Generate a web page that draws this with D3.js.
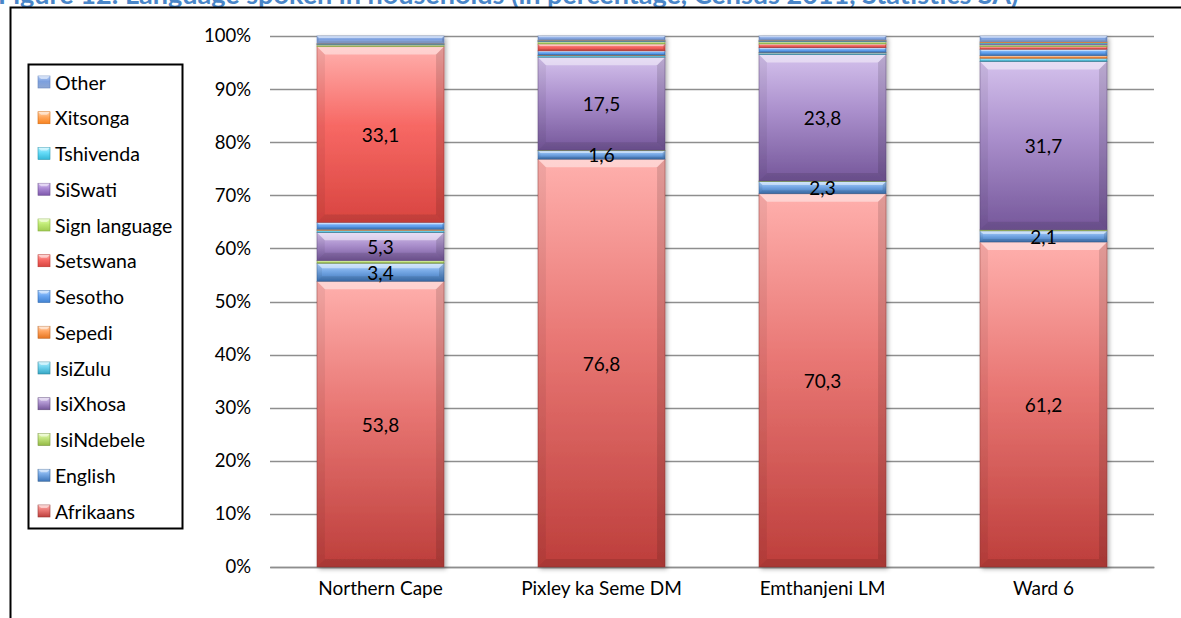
<!DOCTYPE html>
<html>
<head>
<meta charset="utf-8">
<script src="https://cdn.jsdelivr.net/npm/d3@7"></script>
<style>
  html, body { margin: 0; padding: 0; background: #fff; overflow: hidden; }
  svg { display: block; }
</style>
</head>
<body>
<svg id="chart" width="1181" height="618"></svg>
<script>
// Home language by area, share of population (%)
const categories = ["Northern Cape", "Pixley ka Seme DM", "Emthanjeni LM", "Ward 6"];
const languages = ["Afrikaans", "English", "IsiNdebele", "IsiXhosa", "IsiZulu", "Sepedi",
                   "Sesotho", "Setswana", "Sign language", "SiSwati", "Tshivenda", "Xitsonga", "Other"];

const afrikaans    = [53.8, 76.8, 70.3, 61.2];
const english      = [3.4, 1.6, 2.3, 2.1];
const isiNdebele   = [0.5, 0.1, 0.1, 0.2];
const isiXhosa     = [5.3, 17.5, 23.8, 31.7];
const isiZulu      = [0.4, 0.3, 0.3, 0.6];
const sepedi       = [0.2, 0.1, 0.1, 0.5];
const sesotho      = [1.3, 0.8, 0.9, 1.2];
const setswana     = [33.1, 1.3, 0.7, 0.5];
const signLanguage = [0.3, 0.4, 0.4, 0.3];
const siSwati      = [0.1, 0.1, 0.1, 0.2];
const tshivenda    = [0.1, 0.1, 0.1, 0.2];
const xitsonga     = [0.1, 0.1, 0.1, 0.2];
const other        = [1.4, 0.8, 0.8, 1.1];

const yTicks = [0, 0.1, 0.2, 0.3, 0.4, 0.5, 0.6, 0.7, 0.8, 0.9, 1.0];
const titleText = "Figure 12: Language spoken in households (in percentage, Census 2011, Statistics SA)";

const seriesValues = [afrikaans, english, isiNdebele, isiXhosa, isiZulu, sepedi,
                      sesotho, setswana, signLanguage, siSwati, tshivenda, xitsonga, other];

const baseColors = ["#C0504D", "#4F81BD", "#9BBB59", "#8064A2", "#4BACC6", "#E0843F",
                    "#5A8FD0", "#D65E5A", "#A9CC6B", "#8A6BB0", "#4FBAD4", "#F0913F", "#A7B9D9"];

// table rows for d3.stack
const rows = categories.map((c, i) => {
  const r = { category: c };
  languages.forEach((l, j) => { r[l] = seriesValues[j][i]; });
  return r;
});

const svg = d3.select("#chart");
const W = 1181, H = 618;
const margin = { left: 270, right: 27, top: 36, bottom: 51 };

const FONT = "Lato, 'Open Sans', sans-serif";

// title (runs off the top edge) and the outer frame's top and left rules
svg.append("text")
  .attr("x", -2).attr("y", 4)
  .attr("font-family", FONT).attr("font-weight", "bold")
  .attr("font-size", 27).attr("fill", "#4A86C8")
  .text(titleText);

svg.append("path")
  .attr("d", `M10.5,${H + 5} V7.5 H${W + 5}`)
  .attr("fill", "none").attr("stroke", "#000").attr("stroke-width", 2);

const x = d3.scaleBand().domain(categories)
  .range([margin.left, W - margin.right]).paddingInner(0.425).paddingOuter(0.2125);
const y = d3.scaleLinear().domain([0, 1]).range([H - margin.bottom, margin.top]);

const defs = svg.append("defs");

// per-series vertical gradient, light at the top, saturated at the bottom
baseColors.forEach((c, i) => {
  const h = d3.hsl(c);
  const top = d3.hsl(h.h, Math.min(1, h.s * 2.1), 0.84);
  const mid = d3.hsl(h.h, Math.min(1, h.s * 1.5), 0.68);
  const bot = d3.hsl(h.h, Math.min(1, h.s * 1.1), h.l * 0.92);
  const g = defs.append("linearGradient").attr("id", "grad" + i)
    .attr("x1", 0).attr("y1", 0).attr("x2", 0).attr("y2", 1);
  g.append("stop").attr("offset", "0%").attr("stop-color", top.formatHex());
  g.append("stop").attr("offset", "45%").attr("stop-color", mid.formatHex());
  g.append("stop").attr("offset", "100%").attr("stop-color", bot.formatHex());
});

const shadow = defs.append("filter").attr("id", "shadow")
  .attr("x", "-10%").attr("y", "-10%").attr("width", "120%").attr("height", "120%");
shadow.append("feDropShadow").attr("dx", 2).attr("dy", 2)
  .attr("stdDeviation", 2).attr("flood-color", "#000").attr("flood-opacity", 0.3);

// gridlines
svg.append("g").selectAll("line").data(yTicks).join("line")
  .attr("x1", margin.left).attr("x2", W - margin.right)
  .attr("y1", d => Math.round(y(d)) + 0.5).attr("y2", d => Math.round(y(d)) + 0.5)
  .attr("stroke", "#8E8E8E").attr("stroke-width", 1.3);

// y axis labels
const yAxis = d3.axisLeft(y).tickValues(yTicks).tickFormat(d3.format(".0%")).tickSize(0).tickPadding(0);
const yg = svg.append("g").attr("transform", `translate(${margin.left - 19},0)`).call(yAxis);
yg.select(".domain").remove();
yg.selectAll("text").attr("font-family", FONT).attr("font-size", 18.5).attr("fill", "#000");

// x axis labels
const xAxis = d3.axisBottom(x).tickSize(0).tickPadding(15);
const xg = svg.append("g").attr("transform", `translate(0,${H - margin.bottom})`).call(xAxis);
xg.select(".domain").attr("stroke", "#8E8E8E").attr("stroke-width", 1.3);
xg.selectAll("text").attr("font-family", FONT).attr("font-size", 19).attr("fill", "#000");

// stacked bars, 100% per area
const stack = d3.stack().keys(languages).offset(d3.stackOffsetExpand);
const stacked = stack(rows);

const barsG = svg.append("g").attr("filter", "url(#shadow)");
const segs = [];
stacked.forEach((layer, i) => {
  layer.forEach((d, k) => {
    segs.push({ i, key: layer.key, cat: categories[k], y0: d[0], y1: d[1], value: seriesValues[i][k] });
  });
});

const segG = barsG.selectAll("g.seg").data(segs).join("g").attr("class", "seg");
segG.append("rect")
  .attr("x", d => x(d.cat)).attr("width", x.bandwidth())
  .attr("y", d => y(d.y1)).attr("height", d => Math.max(0, y(d.y0) - y(d.y1)))
  .attr("fill", d => `url(#grad${d.i})`)
  .attr("stroke", d => d3.hsl(baseColors[d.i]).darker(1).formatHex())
  .attr("stroke-opacity", 0.55).attr("stroke-width", 0.8);

// bevel: light top edge, darker sides and bottom
segG.each(function(d) {
  const g = d3.select(this);
  const x0 = x(d.cat), w = x.bandwidth();
  const t = y(d.y1), b = y(d.y0), h = b - t;
  if (h < 1.2) return;
  const bv = Math.min(8, h * 0.28);
  g.append("polygon")
    .attr("points", [[x0, t], [x0 + w, t], [x0 + w - bv, t + bv], [x0 + bv, t + bv]].map(p => p.join(",")).join(" "))
    .attr("fill", "#fff").attr("fill-opacity", 0.45);
  g.append("polygon")
    .attr("points", [[x0, t], [x0 + bv, t + bv], [x0 + bv, b - bv], [x0, b]].map(p => p.join(",")).join(" "))
    .attr("fill", "#000").attr("fill-opacity", 0.06);
  g.append("polygon")
    .attr("points", [[x0 + w, t], [x0 + w - bv, t + bv], [x0 + w - bv, b - bv], [x0 + w, b]].map(p => p.join(",")).join(" "))
    .attr("fill", "#000").attr("fill-opacity", 0.12);
  g.append("polygon")
    .attr("points", [[x0, b], [x0 + bv, b - bv], [x0 + w - bv, b - bv], [x0 + w, b]].map(p => p.join(",")).join(" "))
    .attr("fill", "#000").attr("fill-opacity", 0.1);
});

// value labels on the larger segments
const fmt = v => d3.format(".1f")(v).replace(".", ",");
svg.append("g").selectAll("text").data(segs.filter(d => d.value >= 1.5)).join("text")
  .attr("x", d => x(d.cat) + x.bandwidth() / 2)
  .attr("y", d => (y(d.y0) + y(d.y1)) / 2)
  .attr("text-anchor", "middle").attr("dominant-baseline", "central")
  .attr("font-family", FONT).attr("font-size", 19).attr("fill", "#000")
  .text(d => fmt(d.value));

// legend, last series on top
const lg = svg.append("g");
lg.append("rect").attr("x", 28.5).attr("y", 64.5).attr("width", 154).attr("height", 464)
  .attr("fill", "#fff").attr("stroke", "#000").attr("stroke-width", 2);
const legendOrder = languages.map((l, i) => i).reverse();
const ly = d3.scalePoint().domain(legendOrder).range([82, 511]);
const items = lg.selectAll("g.item").data(legendOrder).join("g").attr("class", "item")
  .attr("transform", i => `translate(38,${ly(i)})`);
items.append("rect").attr("x", 0).attr("y", -6).attr("width", 12).attr("height", 12)
  .attr("fill", i => `url(#grad${i})`)
  .attr("stroke", i => d3.hsl(baseColors[i]).darker(0.8).formatHex()).attr("stroke-width", 0.6);
items.append("polygon").attr("points", "0,-6 12,-6 9,-3 3,-3").attr("fill", "#fff").attr("fill-opacity", 0.5);
items.append("text").attr("x", 17).attr("y", 0).attr("dominant-baseline", "central")
  .attr("font-family", FONT).attr("font-size", 19.5).attr("fill", "#000")
  .text(i => languages[i]);
</script>
</body>
</html>
